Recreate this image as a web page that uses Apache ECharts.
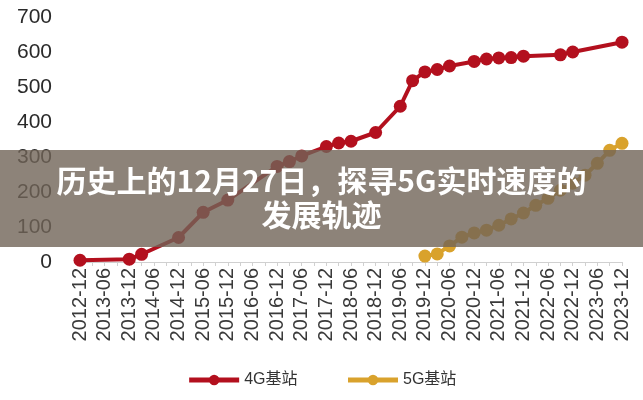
<!DOCTYPE html>
<html>
<head>
<meta charset="utf-8">
<script src="https://cdn.jsdelivr.net/npm/echarts@6/dist/echarts.min.js"></script>
<style>html,body{margin:0;padding:0;background:#fff}#c{width:643px;height:400px}</style>
</head>
<body>
<div id="c"></div>
<script>
var categories = [
 '2012-12','2013-03','2013-06','2013-09','2013-12','2014-03','2014-06','2014-09','2014-12','2015-03',
 '2015-06','2015-09','2015-12','2016-03','2016-06','2016-09','2016-12','2017-03','2017-06','2017-09',
 '2017-12','2018-03','2018-06','2018-09','2018-12','2019-03','2019-06','2019-09','2019-12','2020-03',
 '2020-06','2020-09','2020-12','2021-03','2021-06','2021-09','2021-12','2022-03','2022-06','2022-09',
 '2022-12','2023-03','2023-06','2023-09','2023-12'
];
var series4G = [
 5, null, null, null, 8, 22, null, null, 70, null,
 142, null, 177, null, null, null, 273, 287, 303, null,
 330, 340, 345, null, 370, null, 445, 518, 543, 550,
 560, null, 573, 580, 583, 584, 588, null, null, 592,
 600, null, null, null, 628
];
var series5G = [
 null, null, null, null, null, null, null, null, null, null,
 null, null, null, null, null, null, null, null, null, null,
 null, null, null, null, null, null, null, null, 17, 23,
 46, 71, 83, 91, 105, 123, 140, 162, 182, 205,
 225, 248, 282, 319, 339
];
var yTicks = { min: 0, max: 700, interval: 100 };
var titleLine1 = '历史上的12月27日，探寻5G实时速度的';
var titleLine2 = '发展轨迹';

var chart = echarts.init(document.getElementById('c'), null, {renderer: 'canvas'});
chart.setOption({
  animation: false,
  backgroundColor: '#ffffff',
  grid: { left: 80, right: 21, top: 17, bottom: 138 },
  legend: {
    bottom: 7, left: 'center',
    itemWidth: 50, itemHeight: 13, itemGap: 48,
    lineStyle: { width: 5 },
    textStyle: { fontSize: 16, color: '#333', fontFamily: 'Liberation Sans, Noto Sans CJK SC' },
    data: ['4G基站', '5G基站']
  },
  xAxis: {
    type: 'category',
    data: categories,
    boundaryGap: false,
    axisLine: { lineStyle: { color: '#d0d0d0', width: 1 } },
    axisTick: { show: true, interval: 0, length: 4, lineStyle: { color: '#d0d0d0' } },
    axisLabel: { interval: 1, rotate: 90, margin: 6, fontSize: 20, color: '#3a3a3a', fontFamily: 'Liberation Sans' }
  },
  yAxis: {
    type: 'value',
    min: yTicks.min, max: yTicks.max, interval: yTicks.interval,
    axisLine: { show: false },
    axisTick: { show: false },
    splitLine: { show: false },
    axisLabel: { margin: 28, fontSize: 21, color: '#2a2a2a', fontFamily: 'Liberation Sans' }
  },
  series: [
    {
      name: '4G基站', type: 'line', data: series4G, connectNulls: true,
      symbol: 'circle', symbolSize: 13, showAllSymbol: true,
      lineStyle: { width: 4, color: '#b3101e' },
      itemStyle: { color: '#b3101e' }
    },
    {
      name: '5G基站', type: 'line', data: series5G, connectNulls: true,
      symbol: 'circle', symbolSize: 13, showAllSymbol: true,
      lineStyle: { width: 4, color: '#d9a22c' },
      itemStyle: { color: '#d9a22c' }
    }
  ],
  graphic: [
    { type: 'rect', left: 0, top: 150, z: 100,
      shape: { width: 643, height: 97 },
      style: { fill: 'rgba(112,100,88,0.8)' } },
    { type: 'text', left: 'center', top: 166, z: 101,
      style: { text: titleLine1, fill: '#ffffff', font: 'bold 30px "Noto Sans CJK SC"' } },
    { type: 'text', left: 'center', top: 200, z: 101,
      style: { text: titleLine2, fill: '#ffffff', font: 'bold 30px "Noto Sans CJK SC"' } }
  ]
});
</script>
</body>
</html>
